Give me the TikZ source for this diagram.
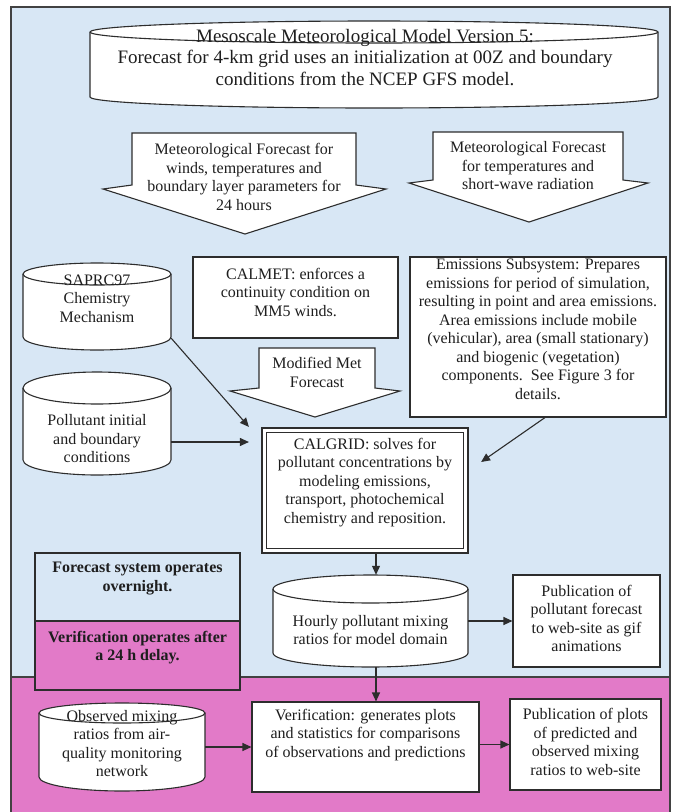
\documentclass[tikz,border=0pt]{standalone}
\usepackage{fontspec}
\setmainfont{Liberation Serif}
\usetikzlibrary{arrows.meta}
\definecolor{bgblue}{RGB}{216,231,245}
\definecolor{bgpink}{RGB}{226,122,200}
\definecolor{lnc}{RGB}{45,45,45}
\definecolor{txc}{RGB}{30,30,30}
\newcommand{\ftop}{\fontsize{19}{21.5}\selectfont}
\newcommand{\fbody}{\fontsize{16}{18.5}\selectfont}
% cylinder: #1 cx, #2 rx, #3 ytop, #4 ry top, #5 ybot, #6 ry bottom
\newcommand{\cylshape}[6]{%
  \filldraw[boxline,fill=white] ({#1-#2},#3) -- ({#1-#2},#5)
    arc[start angle=180,end angle=360,x radius=#2pt,y radius=#6pt]
    -- ({#1+#2},#3)
    arc[start angle=0,end angle=180,x radius=#2pt,y radius=#4pt] -- cycle;
  \draw[boxline] ({#1-#2},#3) arc[start angle=180,end angle=360,x radius=#2pt,y radius=#4pt];
}
\begin{document}
\begin{tikzpicture}[x=1pt,y=-1pt,
  boxline/.style={draw=lnc,line width=1.1pt},
  boxst/.style={boxline,fill=white,inner sep=0pt},
  bnd/.style={draw=none,inner sep=0pt},
  txt/.style={align=center,inner sep=0pt,font=\fbody,text=txc},
  btxt/.style={align=center,inner sep=0pt,font=\fbody\bfseries,text=txc},
  arr/.style={draw=lnc,line width=1.1pt,-{Triangle[length=9pt,width=8pt]}}]
\useasboundingbox (0,0) rectangle (673,812);
\clip (0,0) rectangle (673,812);
% background
\fill[bgblue] (11,7) rectangle (670,677);
\fill[bgpink] (11,677) rectangle (670,830);
\draw[draw=lnc!90,line width=1.4pt] (11,677) -- (670,677);
\draw[draw=lnc!90,line width=1.6pt] (11,830) -- (11,7) -- (670,7) -- (670,830);

% MM5 cylinder
\cylshape{374}{284}{32}{11}{97}{11}
\node[bnd,minimum width=568pt,minimum height=86pt] (mm5) at (374,65) {};
\node[txt,font=\ftop] (mm5t) at (365,57.5) {Mesoscale Meteorological Model Version 5:\\Forecast for 4-km grid uses an initialization at 00Z and boundary\\conditions from the NCEP GFS model.};

% block arrows
\filldraw[boxline,fill=white] (132,133) -- (356,133) -- (356,185) -- (386,189) -- (245,234) -- (103,189) -- (132,185) -- cycle;
\node[txt] (met1) at (244,177) {Meteorological Forecast for\\winds, temperatures and\\boundary layer parameters for\\24 hours};
\filldraw[boxline,fill=white] (433,132) -- (623,132) -- (623,180) -- (648,183) -- (529,222) -- (409,183) -- (433,180) -- cycle;
\node[txt] (met2) at (528,166) {Meteorological Forecast\\for temperatures and\\short-wave radiation};
\filldraw[boxline,fill=white] (259,348) -- (375,348) -- (375,388) -- (400,391) -- (315,417) -- (230,391) -- (259,388) -- cycle;
\node[txt] (modt) at (317,372.5) {Modified Met\\Forecast};

% CALMET
\node[boxst,minimum width=205pt,minimum height=81pt] (calmet) at (295.5,297.5) {};
\node[txt] (calmett) at (295.5,292) {CALMET: enforces a\\continuity condition on\\MM5 winds.};

% Emissions
\node[boxst,minimum width=256pt,minimum height=160pt] (emis) at (538,337) {};
\node[txt] (emist) at (538,329) {Emissions Subsystem: Prepares\\emissions for period of simulation,\\resulting in point and area emissions.\\Area emissions include mobile\\(vehicular), area (small stationary)\\and biogenic (vegetation)\\components.\ \ See Figure 3 for\\details.};

% SAPRC97 cylinder
\cylshape{97}{74}{274}{11}{337}{13}
\node[bnd,minimum width=148pt,minimum height=87pt] (saprc) at (97,306.5) {};
\node[txt] (saprct) at (97,298.5) {SAPRC97\\Chemistry\\Mechanism};

% Pollutant cylinder
\cylshape{97}{74}{388}{16}{460}{15}
\node[bnd,minimum width=148pt,minimum height=103pt] (pollu) at (97,423.5) {};
\node[txt] (pollut) at (97,439) {Pollutant initial\\and boundary\\conditions};

% CALGRID
\node[boxst,line width=2.2pt,minimum width=206pt,minimum height=125pt] (calgrid) at (365,490.5) {};
\node[draw=lnc,line width=0.8pt,inner sep=0pt,minimum width=197pt,minimum height=116pt] (calgridin) at (365,490.5) {};
\node[txt] (calgridt) at (365,482.5) {CALGRID: solves for\\pollutant concentrations by\\modeling emissions,\\transport, photochemical\\chemistry and reposition.};

% legend boxes
\node[boxline,fill=bgblue,inner sep=0pt,minimum width=205pt,minimum height=68pt] (leg1) at (137.5,587) {};
\node[boxline,fill=bgpink,inner sep=0pt,minimum width=205pt,minimum height=69pt] (leg2) at (137.5,655.5) {};
\node[btxt] (leg1t) at (137.5,578.5) {Forecast system operates\\overnight.};
\node[btxt] (leg2t) at (137.5,647.5) {Verification operates after\\a 24 h delay.};

% Hourly cylinder
\cylshape{370.5}{97.5}{589}{14}{653}{14}
\node[bnd,minimum width=195pt,minimum height=92pt] (hourly) at (370.5,621) {};
\node[txt] (hourlyt) at (370.5,630) {Hourly pollutant mixing\\ratios for model domain};

% Publication 1
\node[boxst,minimum width=147pt,minimum height=92pt] (pub1) at (586.5,621) {};
\node[txt] (pub1t) at (586.5,618.5) {Publication of\\pollutant forecast\\to web-site as gif\\animations};

% Observed cylinder
\cylshape{122}{83}{713}{10}{777}{14}
\node[bnd,minimum width=166pt,minimum height=88pt] (obs) at (122,747) {};
\node[txt] (obst) at (122,743.5) {Observed mixing\\ratios from air-\\quality monitoring\\network};

% Verification
\node[boxst,minimum width=227pt,minimum height=90pt] (verif) at (365.5,747) {};
\node[txt] (veriftx) at (365.5,735) {Verification: generates plots\\and statistics for comparisons\\of observations and predictions};

% Publication 2
\node[boxst,minimum width=151pt,minimum height=91pt] (pub2) at (585.5,744.5) {};
\node[txt] (pub2t) at (585.5,742) {Publication of plots\\of predicted and\\observed mixing\\ratios to web-site};

% connectors
\draw[arr] ([yshift=12pt]saprc.south east) -- ([xshift=-12pt]calgrid.north west);
\draw[arr,shorten >=12pt] ([yshift=-18.5pt]pollu.east) -- ([yshift=-18.5pt]pollu.east -| calgrid.west);
\draw[arr] ([xshift=7pt]emis.south) -- ([xshift=12pt,yshift=28.5pt]calgrid.east);
\draw[arr] ([xshift=11pt]calgrid.south) -- ([xshift=5.5pt]hourly.north);
\draw[arr] (hourly.east) -- (pub1.west);
\draw[arr] ([xshift=5.5pt]hourly.south) -- ([xshift=10.5pt]verif.north);
\draw[arr] (obs.east) -- (verif.west);
\draw[arr] (verif.east |- pub2.west) -- (pub2.west);
\end{tikzpicture}
\end{document}
